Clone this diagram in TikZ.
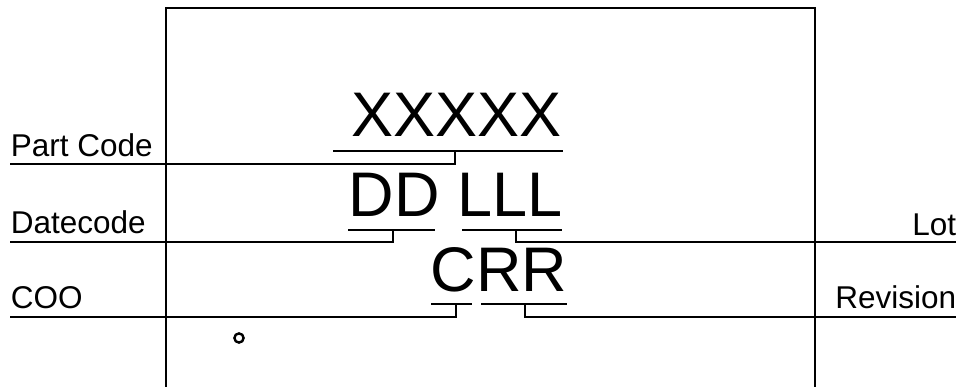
\documentclass[tikz,border=0pt]{standalone}
\usepackage{fontspec}
\setmainfont{Liberation Sans}
\begin{document}
\begin{tikzpicture}[x=1pt,y=-1pt,line width=1.6pt,
  lbl/.style={inner sep=0pt,font=\fontsize{31.5}{31.5}\selectfont},
  big/.style={inner sep=0pt,anchor=base west,font=\fontsize{63}{63}\selectfont},
  lead/.style={line width=1.6pt}]
\useasboundingbox (0,0) rectangle (964,387);
\draw (166,387) -- (166,8) -- (815,8) -- (815,387);
% labels
\node[lbl,anchor=base west] (pc) at (10,157) {Part Code};
\node[lbl,anchor=base west] (dc) at (10,234) {Datecode};
\node[lbl,anchor=base west] (coo) at (10,309) {COO};
\node[lbl,anchor=base east] (lot) at (957,236) {Lot};
\node[lbl,anchor=base east] (rev) at (957,309) {Revision};
% marking text
\node[big] (xx) at (351,137) {XXXXX};
\node[big] (dd) at (348,217) {DD LLL};
\node[big] (crr) at (430,292) {CRR};
% coordinates
\coordinate (pcL) at (10,164);
\coordinate (dcL) at (10,242);
\coordinate (cooL) at (10,317);
\coordinate (lotR) at (956,242);
\coordinate (revR) at (956,317);
% part code
\draw[lead] (333,151) -- (563,151);
\draw[lead] (455,151) -- (455,164) -- (pcL);
% datecode
\draw[lead] (348,230) -- (435,230);
\draw[lead] (393,230) -- (393,242) -- (dcL);
% lot
\draw[lead] (462,230) -- (562,230);
\draw[lead] (516,230) -- (516,242) -- (lotR);
% coo
\draw[lead] (431,304) -- (472,304);
\draw[lead] (456,304) -- (456,317) -- (cooL);
% revision
\draw[lead] (481,304) -- (567,304);
\draw[lead] (525,304) -- (525,317) -- (revR);
% pin-1 mark
\draw[line width=2.4pt] (239,338) circle (4.6);
\end{tikzpicture}
\end{document}
